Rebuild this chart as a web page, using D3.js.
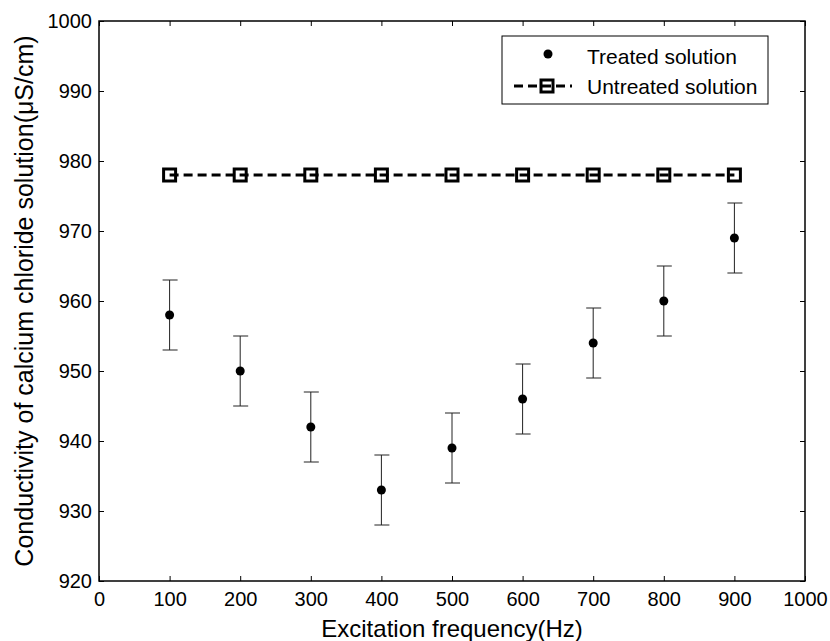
<!DOCTYPE html>
<html>
<head>
<meta charset="utf-8">
<script src="https://cdnjs.cloudflare.com/ajax/libs/d3/7.8.5/d3.min.js"></script>
<style>
  body { margin: 0; background: #fff; }
  svg { display: block; font-family: "Liberation Sans", Arial, sans-serif; }
</style>
</head>
<body>
<div id="chart"></div>
<script>
// data
var freqs = [100, 200, 300, 400, 500, 600, 700, 800, 900];
var treated = [958, 950, 942, 933, 939, 946, 954, 960, 969];
var errs = [5, 5, 5, 5, 5, 5, 5, 5, 5];
var untreated = [978, 978, 978, 978, 978, 978, 978, 978, 978];
var xTicks = [0, 100, 200, 300, 400, 500, 600, 700, 800, 900, 1000];
var yTicks = [920, 930, 940, 950, 960, 970, 980, 990, 1000];
var legendLabels = ["Treated solution", "Untreated solution"];

var width = 830, height = 641;
var m = {left: 99, right: 25, top: 21, bottom: 60};

var svg = d3.select("#chart").append("svg")
    .attr("width", width).attr("height", height);

var x = d3.scaleLinear().domain([0, 1000]).range([m.left, width - m.right]);
var y = d3.scaleLinear().domain([920, 1000]).range([height - m.bottom, m.top]);

var x0 = x.range()[0], x1 = x.range()[1];
var y0 = y.range()[0], y1 = y.range()[1];

// axes (ticks inward, mirrored on top/right)
function styleAxis(g, noText) {
  g.select(".domain").remove();
  g.selectAll("line").attr("stroke", "#000").attr("stroke-width", 1);
  g.selectAll("text").attr("fill", "#000").style("font-size", "20px");
  if (noText) g.selectAll("text").remove();
}
svg.append("g").attr("transform", "translate(0," + y0 + ")")
  .call(d3.axisBottom(x).tickValues(xTicks).tickSize(-5).tickPadding(11).tickFormat(d3.format("d")))
  .call(function(g){ styleAxis(g); });
svg.append("g").attr("transform", "translate(0," + y1 + ")")
  .call(d3.axisTop(x).tickValues(xTicks).tickSize(-5))
  .call(function(g){ styleAxis(g, true); });
svg.append("g").attr("transform", "translate(" + x0 + ",0)")
  .call(d3.axisLeft(y).tickValues(yTicks).tickSize(-5).tickPadding(7).tickFormat(d3.format("d")))
  .call(function(g){ styleAxis(g); });
svg.append("g").attr("transform", "translate(" + x1 + ",0)")
  .call(d3.axisRight(y).tickValues(yTicks).tickSize(-5))
  .call(function(g){ styleAxis(g, true); });

svg.append("rect")
  .attr("x", x0).attr("y", y1)
  .attr("width", x1 - x0).attr("height", y0 - y1)
  .attr("fill", "none").attr("stroke", "#000").attr("stroke-width", 1.5);

// untreated line + squares
var line = d3.line().x(function(d, i){ return x(freqs[i]); }).y(function(d){ return y(d); });
svg.append("path")
  .datum(untreated)
  .attr("d", line)
  .attr("fill", "none").attr("stroke", "#000")
  .attr("stroke-width", 3).attr("stroke-dasharray", "9,5");
svg.selectAll(".sq").data(untreated).join("rect")
  .attr("class", "sq")
  .attr("x", function(d, i){ return x(freqs[i]) - 6; })
  .attr("y", function(d){ return y(d) - 6; })
  .attr("width", 12).attr("height", 12)
  .attr("fill", "none").attr("stroke", "#000").attr("stroke-width", 3);

// treated error bars
var eb = svg.selectAll(".eb").data(treated).join("g").attr("class", "eb");
eb.append("line")
  .attr("x1", function(d, i){ return x(freqs[i]); })
  .attr("x2", function(d, i){ return x(freqs[i]); })
  .attr("y1", function(d, i){ return y(d - errs[i]); })
  .attr("y2", function(d, i){ return y(d + errs[i]); })
  .attr("stroke", "#222").attr("stroke-width", 1);
[-1, 1].forEach(function(s){
  eb.append("line")
    .attr("x1", function(d, i){ return x(freqs[i]) - 7; })
    .attr("x2", function(d, i){ return x(freqs[i]) + 8; })
    .attr("y1", function(d, i){ return y(d + s * errs[i]); })
    .attr("y2", function(d, i){ return y(d + s * errs[i]); })
    .attr("stroke", "#222").attr("stroke-width", 1);
});
eb.append("circle")
  .attr("cx", function(d, i){ return x(freqs[i]); })
  .attr("cy", function(d){ return y(d); })
  .attr("r", 4.5).attr("fill", "#000");

// legend
var lg = svg.append("g");
lg.append("rect")
  .attr("x", 502).attr("y", 36).attr("width", 266).attr("height", 68)
  .attr("fill", "#fff").attr("stroke", "#000").attr("stroke-width", 1);
lg.append("circle").attr("cx", 548).attr("cy", 54).attr("r", 4.5).attr("fill", "#000");
lg.append("line").attr("x1", 514).attr("x2", 572).attr("y1", 86).attr("y2", 86)
  .attr("stroke", "#000").attr("stroke-width", 3).attr("stroke-dasharray", "9,5");
lg.append("rect").attr("x", 541).attr("y", 80).attr("width", 12).attr("height", 12)
  .attr("fill", "none").attr("stroke", "#000").attr("stroke-width", 3);
lg.selectAll("text").data(legendLabels).join("text")
  .attr("x", 587)
  .attr("y", function(d, i){ return 63.5 + i * 30.5; })
  .style("font-size", "21px")
  .text(function(d){ return d; });

// axis titles
svg.append("text")
  .attr("x", (x0 + x1) / 2).attr("y", 637)
  .attr("text-anchor", "middle")
  .style("font-size", "24px")
  .text("Excitation frequency(Hz)");
svg.append("text")
  .attr("transform", "translate(33," + ((y0 + y1) / 2) + ") rotate(-90)")
  .attr("text-anchor", "middle")
  .style("font-size", "25px")
  .text("Conductivity of calcium chloride solution(μS/cm)");
</script>
</body>
</html>
